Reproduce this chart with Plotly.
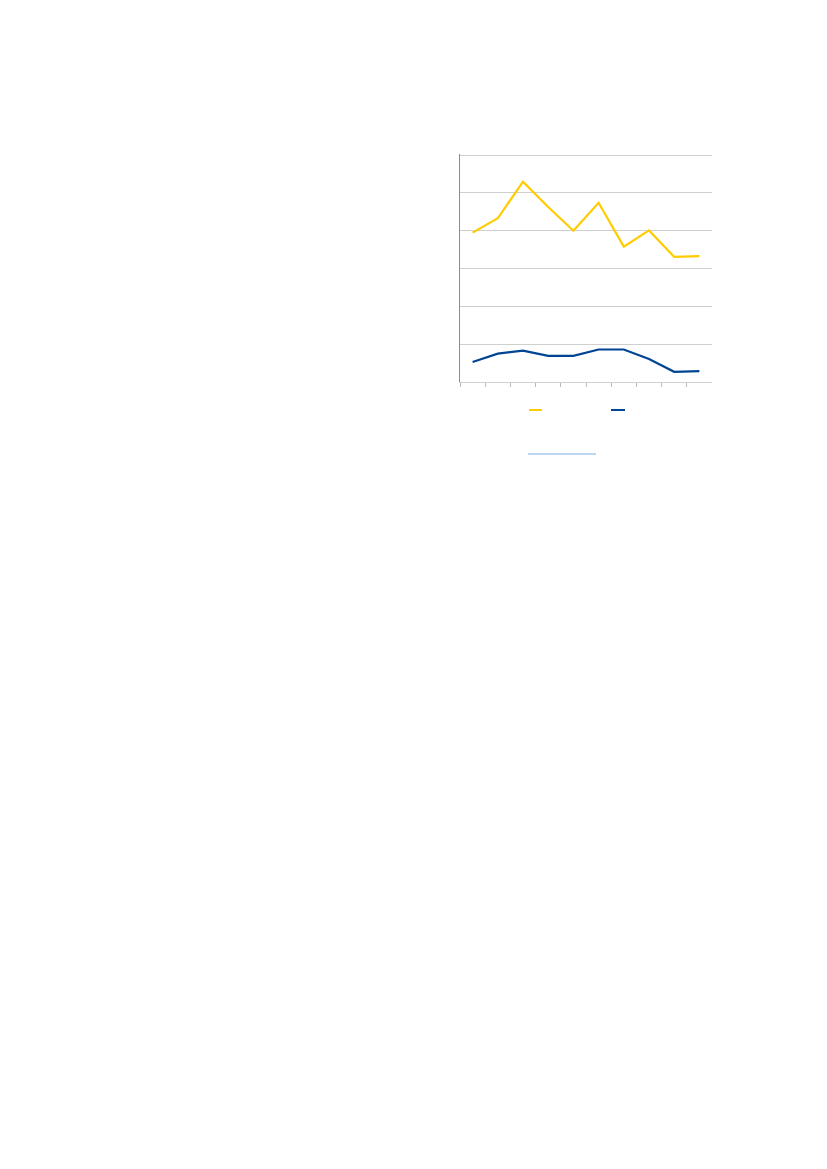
import plotly.graph_objects as go

W, H = 827, 1169
OFF = 8  # default page margin around the plot div

categories = ["2007", "2008", "2009", "2010", "2011", "2012", "2013", "2014", "2015", "2016"]
series_yellow = [3.95, 4.33, 5.30, 4.63, 4.00, 4.74, 3.58, 4.01, 3.31, 3.33]
series_blue = [0.53, 0.75, 0.83, 0.69, 0.69, 0.86, 0.86, 0.61, 0.27, 0.29]

YELLOW = "#FFCC00"
BLUE = "#004494"
GREY = "#8c8c8c"

FW, FH = W - 2 * OFF, H - 2 * OFF


def px_x(x):
    return (x - OFF) / FW


def px_y(y):
    return 1 - (y - OFF) / FH


fig = go.Figure()
fig.add_trace(go.Scatter(x=categories, y=series_yellow, mode="lines", name="Series 1",
                         line=dict(color=YELLOW, width=2.2)))
fig.add_trace(go.Scatter(x=categories, y=series_blue, mode="lines", name="Series 2",
                         line=dict(color=BLUE, width=2.2)))

fig.update_layout(
    width=FW, height=FH,
    margin=dict(l=0, r=0, t=0, b=0),
    paper_bgcolor="white", plot_bgcolor="white",
    showlegend=False,
    xaxis=dict(domain=[px_x(460), px_x(712)], type="category", tickson="boundaries",
               range=[-0.5, len(categories) - 0.5],
               ticks="outside", ticklen=4, tickcolor="#bbbbbb", tickwidth=1,
               showticklabels=False, showgrid=False, showline=True,
               linecolor="#d0d0d0", linewidth=1, zeroline=False),
    yaxis=dict(domain=[px_y(382), px_y(154)], range=[0, 6.03], dtick=1,
               showticklabels=False, showgrid=True, gridcolor="#cfcfcf",
               gridwidth=1, showline=True, linecolor=GREY,
               linewidth=1, zeroline=False, ticks=""),
)

# legend keys (labels are blank in the source)
fig.add_shape(type="line", xref="paper", yref="paper", x0=px_x(529), x1=px_x(542),
              y0=px_y(410), y1=px_y(410), line=dict(color=YELLOW, width=2))
fig.add_shape(type="line", xref="paper", yref="paper", x0=px_x(611), x1=px_x(625),
              y0=px_y(410), y1=px_y(410), line=dict(color=BLUE, width=2))
fig.add_shape(type="line", xref="paper", yref="paper", x0=px_x(528), x1=px_x(596),
              y0=px_y(454), y1=px_y(454), line=dict(color="#a9c8ef", width=1.5))

fig.write_html("out.html")
